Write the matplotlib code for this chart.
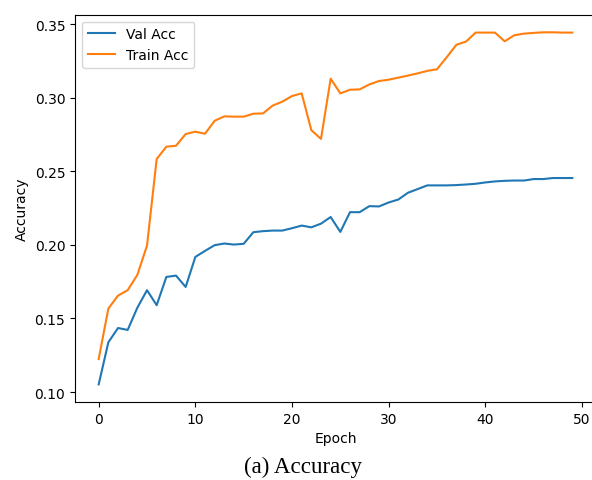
import matplotlib
matplotlib.use("Agg")
import matplotlib.pyplot as plt

# accuracy per epoch
epochs = list(range(50))
val_acc = [0.1052, 0.1338, 0.1435, 0.1422, 0.1573, 0.1692, 0.1590, 0.1782, 0.1791, 0.1714,
           0.1918, 0.1959, 0.1998, 0.2009, 0.2002, 0.2007, 0.2086, 0.2093, 0.2097, 0.2097,
           0.2113, 0.2131, 0.2119, 0.2144, 0.2189, 0.2088, 0.2222, 0.2222, 0.2263, 0.2261,
           0.2288, 0.2308, 0.2354, 0.2379, 0.2404, 0.2404, 0.2404, 0.2406, 0.2410, 0.2415,
           0.2424, 0.2431, 0.2435, 0.2437, 0.2437, 0.2447, 0.2447, 0.2454, 0.2454, 0.2454]
train_acc = [0.1224, 0.1567, 0.1655, 0.1692, 0.1796, 0.1995, 0.2583, 0.2667, 0.2673, 0.2753,
             0.2769, 0.2755, 0.2843, 0.2873, 0.2871, 0.2871, 0.2891, 0.2893, 0.2946, 0.2973,
             0.3011, 0.3029, 0.2779, 0.2720, 0.3129, 0.3029, 0.3054, 0.3056, 0.3090, 0.3113,
             0.3122, 0.3136, 0.3150, 0.3165, 0.3182, 0.3193, 0.3274, 0.3359, 0.3381, 0.3442,
             0.3442, 0.3442, 0.3383, 0.3424, 0.3435, 0.3440, 0.3444, 0.3444, 0.3442, 0.3442]

W, H = 592, 481
fig = plt.figure(figsize=(W / 100, H / 100), dpi=100)
# plot area runs a little past the right edge of the figure
ax = fig.add_axes([75 / W, 1 - 403 / H, 521 / W, 387.3 / H])
ax.spines["right"].set_visible(False)

ax.plot(epochs, val_acc, label="Val Acc")
ax.plot(epochs, train_acc, label="Train Acc")
ax.set_xlabel("Epoch")
ax.set_ylabel("Accuracy")
ax.legend(loc="upper left")

fig.text(302.7 / W, 1 - 467 / H, "(a) Accuracy", ha="center", va="center",
         fontsize=16.6, family="Liberation Serif")

fig.savefig("out.png", dpi=100)
